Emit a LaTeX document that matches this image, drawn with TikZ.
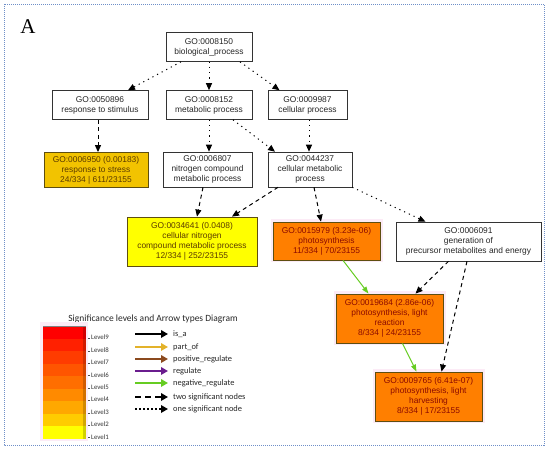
\documentclass[tikz,border=0pt]{standalone}
\usepackage{fontspec}
\setmainfont{Liberation Sans}
\newfontfamily\calib{Carlito}
\newfontfamily\serifA{Liberation Serif}
\usetikzlibrary{arrows.meta,calc}
\definecolor{bordblue}{HTML}{6F8FC8}
\definecolor{olivedk}{HTML}{5E4E10}
\definecolor{goldfill}{HTML}{F2C300}
\definecolor{yelfill}{HTML}{FFFF00}
\definecolor{orfill}{HTML}{FF7F00}
\definecolor{redtext}{HTML}{8B0A00}
\definecolor{browntext}{HTML}{5A3A00}
\definecolor{negreen}{HTML}{66CC22}
\definecolor{partof}{HTML}{E3B22A}
\definecolor{posreg}{HTML}{8B4A1E}
\definecolor{regpur}{HTML}{6A1D8E}
\definecolor{haloPink}{HTML}{FCEBF6}
\definecolor{Lnine}{HTML}{FF0000}
\definecolor{Leight}{HTML}{FF2000}
\definecolor{Lseven}{HTML}{FF3C00}
\definecolor{Lsix}{HTML}{FF5500}
\definecolor{Lfive}{HTML}{FF6E00}
\definecolor{Lfour}{HTML}{FF8A00}
\definecolor{Lthree}{HTML}{FFA800}
\definecolor{Ltwo}{HTML}{FFCC00}
\definecolor{Lone}{HTML}{FFFF00}
\begin{document}
\begin{tikzpicture}[x=1pt,y=-1pt,
  gobox/.style={draw=black!80, line width=0.6pt, fill=white, align=center,
    inner sep=0pt, font=\fontsize{8.4}{10}\selectfont, text=black!85},
  sigyel/.style={gobox, draw=olivedk, line width=0.8pt, text=browntext},
  sigor/.style={gobox, draw=olivedk, line width=0.8pt, fill=orfill, text=redtext,
    preaction={draw=haloPink, line width=5pt}},
  tipk/.style={-{Triangle[length=7pt,width=6pt]}},
  dotedge/.style={line width=1pt, dash pattern=on 1.2pt off 4pt, tipk},
  dashedge/.style={line width=1pt, dash pattern=on 4pt off 3.5pt, tipk},
  negedge/.style={draw=negreen, line width=1pt, -{Triangle[length=7pt,width=5pt]}},
  legarrow/.style={line width=2.8pt, -{Triangle[length=7pt,width=7.5pt]}},
  leglabel/.style={anchor=west, inner sep=0pt, font=\calib\fontsize{8.4}{10}\selectfont, text=black!85},
  levlabel/.style={anchor=west, inner sep=0pt, font=\calib\fontsize{6.8}{8}\selectfont, text=black!80}
]
\useasboundingbox (0,0) rectangle (550,449);
\draw[bordblue, line width=0.6pt, dash pattern=on 1pt off 1pt] (4,4) rectangle (544,445);

\node[font=\serifA\fontsize{21}{21}\selectfont] (lblA) at (28,27) {A};

% GO nodes
\node[gobox, minimum width=86pt, minimum height=29pt] (bio) at (209,47) {GO:0008150\\biological\_process};
\node[gobox, minimum width=96pt, minimum height=29pt] (resp) at (100,105) {GO:0050896\\response to stimulus};
\node[gobox, minimum width=86pt, minimum height=29pt] (met) at (209,105) {GO:0008152\\metabolic process};
\node[gobox, minimum width=79pt, minimum height=29pt] (cell) at (307.5,105) {GO:0009987\\cellular process};
\node[sigyel, fill=goldfill, minimum width=104pt, minimum height=35pt] (stress) at (96,170) {GO:0006950 (0.00183)\\response to stress\\24/334 | 611/23155};
\node[gobox, minimum width=89pt, minimum height=35pt] (nitro) at (207.5,169.5) {GO:0006807\\nitrogen compound\\metabolic process};
\node[gobox, minimum width=84pt, minimum height=35pt] (cellmet) at (310,169.5) {GO:0044237\\cellular metabolic\\process};
\node[sigyel, fill=yelfill, minimum width=130pt, minimum height=49pt] (cnitro) at (192,241.5) {GO:0034641 (0.0408)\\cellular nitrogen\\compound metabolic process\\12/334 | 252/23155};
\node[sigor, minimum width=107pt, minimum height=38pt] (photo) at (326.5,241) {GO:0015979 (3.23e-06)\\photosynthesis\\11/334 | 70/23155};
\node[gobox, minimum width=145pt, minimum height=39pt] (gen) at (468.5,241.5) {GO:0006091\\generation of\\precursor metabolites and energy};
\node[sigor, minimum width=107pt, minimum height=49pt] (lr) at (389.5,318.5) {GO:0019684 (2.86e-06)\\photosynthesis, light\\reaction\\8/334 | 24/23155};
\node[sigor, minimum width=107pt, minimum height=49pt] (lh) at (428.5,396.5) {GO:0009765 (6.41e-07)\\photosynthesis, light\\harvesting\\8/334 | 17/23155};

% edges
\draw[dotedge] ($(bio.south)+(-28,0)$) -- ($(resp.north)+(28,0)$);
\draw[dotedge] (bio.south) -- (met.north);
\draw[dotedge] ($(bio.south)+(31,0)$) -- ($(cell.north)+(-28,0)$);
\draw[dashedge] ($(resp.south)+(-2,0)$) -- ($(stress.north)+(2,0)$);
\draw[dotedge] (met.south) -- ($(nitro.north)+(1.5,0)$);
\draw[dotedge] ($(met.south)+(24,0)$) -- ($(cellmet.north)+(-35,0)$);
\draw[dotedge] ($(cell.south)+(1.5,0)$) -- ($(cellmet.north)+(-1,0)$);
\draw[dashedge] ($(nitro.south)+(-4.5,0)$) -- ($(cnitro.north)+(5,0)$);
\draw[dashedge] ($(cellmet.south)+(-32,0)$) -- ($(cnitro.north)+(40,0)$);
\draw[dashedge] ($(cellmet.south)+(4,0)$) -- ($(photo.north)+(-5.5,0)$);
\draw[dotedge] (cellmet.south east) -- ($(gen.north)+(-43,0)$);
\draw[negedge] ($(photo.south)+(16.5,0)$) -- ($(lr.north)+(-21,0)$);
\draw[dashedge] ($(gen.south)+(-20,0)$) -- ($(lr.north)+(26,0)$);
\draw[dashedge] ($(gen.south)+(-1.5,0)$) -- ($(lh.north)+(13,0)$);
\draw[negedge] ($(lr.south)+(13,0)$) -- ($(lh.north)+(-12,0)$);

% legend
\node[font=\calib\fontsize{9.5}{11}\selectfont, text=black!85] (legtitle) at (153,319) {Significance levels and Arrow types Diagram};
\fill[haloPink] (40,322) rectangle (88,441);
\foreach \c [count=\i from 0] in {Lnine,Leight,Lseven,Lsix,Lfive,Lfour,Lthree,Ltwo,Lone}{
  \fill[\c] (43,{326+12.55*\i}) rectangle (86,{326+12.55*(\i+1)});
}
\fill[black, opacity=0.18] (83,326) rectangle (86,439);
\draw[black!50, line width=0.6pt] (43,326) -- (86,326);
\foreach \t [count=\i from 0] in {9,8,7,6,5,4,3,2,1}{
  \draw[black!70, line width=0.5pt] (88,{338.5+12.4*\i}) -- (90,{338.5+12.4*\i});
  \node[levlabel] (lev\t) at (91,{337.5+12.4*\i}) {Level\t};
}
\foreach \n/\y in {isa/334,partof/347,posreg/359,reg/371,neg/383,two/397,one/409}{
  \coordinate (\n s) at (135,\y);
  \coordinate (\n e) at (168,\y);
}
\draw[legarrow, black] (isas) -- (isae);
\draw[legarrow, partof] (partofs) -- (partofe);
\draw[legarrow, posreg] (posregs) -- (posrege);
\draw[legarrow, regpur] (regs) -- (rege);
\draw[legarrow, negreen] (negs) -- (nege);
\draw[legarrow, black, dash pattern=on 6pt off 4pt] (twos) -- (twoe);
\draw[legarrow, black, dash pattern=on 2.4pt off 1.6pt] (ones) -- (onee);
\node[leglabel] (tisa) at (173,334) {is\_a};
\node[leglabel] (tpart) at (173,347) {part\_of};
\node[leglabel] (tpos) at (173,359) {positive\_regulate};
\node[leglabel] (treg) at (173,371) {regulate};
\node[leglabel] (tneg) at (173,383) {negative\_regulate};
\node[leglabel] (ttwo) at (173,397) {two significant nodes};
\node[leglabel] (tone) at (173,409) {one significant node};
\end{tikzpicture}
\end{document}
